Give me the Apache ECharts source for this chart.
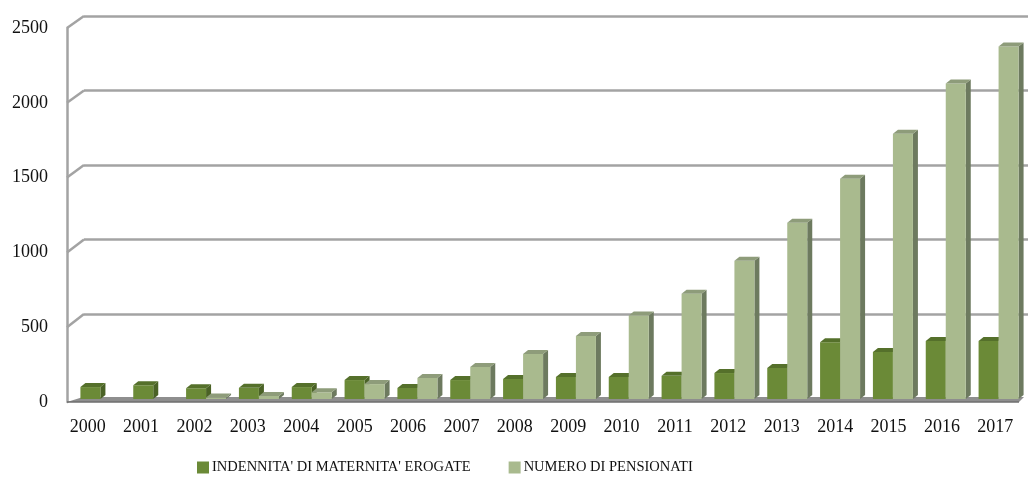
<!DOCTYPE html>
<html>
<head>
<meta charset="utf-8">
<script src="https://cdn.jsdelivr.net/npm/echarts@6/dist/echarts.min.js"></script>
<style>
html,body{margin:0;padding:0;background:#fff;}
#c{width:1028px;height:484px;}
</style>
</head>
<body>
<div id="c"></div>
<script>
const categories = ['2000','2001','2002','2003','2004','2005','2006','2007','2008','2009','2010','2011','2012','2013','2014','2015','2016','2017'];
const indennita = [80, 92, 72, 75, 80, 127, 74, 127, 134, 148, 148, 155, 174, 208, 380, 315, 388, 388];
const pensionati = [0, 0, 10, 20, 45, 100, 141, 215, 302, 423, 560, 705, 926, 1181, 1476, 1778, 2114, 2362];
const seriesNames = ["INDENNITA' DI MATERNITA' EROGATE", 'NUMERO DI PENSIONATI'];
const yTicks = [0, 500, 1000, 1500, 2000, 2500];

const FONT = '"Liberation Serif", "Times New Roman", serif';
const BAR_W = 20, DX = 5, DY = 4;

function makeRender(left, front, side, top) {
  return function (params, api) {
    const cat = api.value(0), v = api.value(1);
    const p = api.coord([cat, v]);
    const p0 = api.coord([cat, 0]);
    if (v <= 0) return { type: 'group', children: [] };
    const x0 = left ? p[0] - BAR_W : p[0];
    const x1 = x0 + BAR_W;
    const yt = p[1], yb = p0[1];
    return {
      type: 'group',
      children: [
        { type: 'polygon', shape: { points: [[x1, yt], [x1 + DX, yt - DY], [x1 + DX, yb - DY], [x1, yb]] }, style: { fill: side } },
        { type: 'rect', shape: { x: x0, y: yt, width: BAR_W, height: yb - yt }, style: { fill: front } },
        { type: 'polygon', shape: { points: [[x0, yt], [x0 + DX, yt - DY], [x1 + DX, yt - DY], [x1, yt]] }, style: { fill: top } }
      ]
    };
  };
}

const chart = echarts.init(document.getElementById('c'), null, { renderer: 'canvas' });
const option = {
  backgroundColor: '#ffffff',
  animation: false,
  textStyle: { fontFamily: FONT },
  legend: {
    left: 192, top: 455,
    itemWidth: 12, itemHeight: 12, itemGap: 38,
    icon: 'rect',
    textStyle: { fontFamily: FONT, fontSize: 14.5, color: '#111', padding: [0, 0, 0, -2] },
    data: seriesNames
  },
  grid: [
    { left: 61, right: 6, top: 28, bottom: 84 },
    { left: 67, right: 6, top: 28, bottom: 82 },
    { left: 84, right: 0, top: 16, bottom: 170 },
    { left: 74, right: 3, top: 26, bottom: 85 }
  ],
  xAxis: [
    { gridIndex: 0, type: 'category', data: categories, axisLine: { show: false }, axisTick: { show: false },
      axisLabel: { fontFamily: FONT, fontSize: 18, color: '#111', margin: 18 } },
    { gridIndex: 1, type: 'category', data: categories, show: false },
    { gridIndex: 2, type: 'value', min: 0, max: 1, show: false },
    { gridIndex: 3, type: 'category', data: categories, show: false }
  ],
  yAxis: [
    { gridIndex: 0, type: 'value', min: 0, max: 2500, interval: 500, show: false },
    { gridIndex: 1, type: 'value', min: 0, max: 2500, interval: 500,
      axisLine: { show: true, lineStyle: { color: '#a3a3a3', width: 2.5 } },
      axisTick: { show: false }, splitLine: { show: false },
      axisLabel: { fontFamily: FONT, fontSize: 18, color: '#111', margin: 19, formatter: v => String(v) } },
    { gridIndex: 2, type: 'value', min: 500, max: 2500, interval: 500,
      axisLine: { show: false }, axisTick: { show: false }, axisLabel: { show: false },
      splitLine: { show: true, lineStyle: { color: '#a3a3a3', width: 2.5 } } },
    { gridIndex: 3, type: 'value', min: 0, max: 2500, interval: 500, show: false }
  ],
  series: [
    { name: seriesNames[0], type: 'custom', xAxisIndex: 3, yAxisIndex: 3, z: 3,
      itemStyle: { color: '#6b8a37' },
      renderItem: makeRender(true, '#6b8a37', '#4a6226', '#55702b'),
      encode: { x: 0, y: 1 },
      data: indennita.map((v, i) => [i, v]) },
    { name: seriesNames[1], type: 'custom', xAxisIndex: 3, yAxisIndex: 3, z: 4,
      itemStyle: { color: '#a9ba8e' },
      renderItem: makeRender(false, '#a9ba8e', '#6d7a5f', '#8e9c7a'),
      encode: { x: 0, y: 1 },
      data: pensionati.map((v, i) => [i, v]) }
  ]
};
chart.setOption(option);

// Decorative 3D frame: left diagonals and floor, positioned via axes
const graphics = [];
const gridFrontLeft = 67, gridBackLeft = 84;
yTicks.forEach(v => {
  if (v === 0) return;
  const yf = chart.convertToPixel({ yAxisIndex: 1 }, v);
  const yb = chart.convertToPixel({ yAxisIndex: 2 }, v);
  graphics.push({ type: 'line', z: 1, shape: { x1: gridFrontLeft, y1: yf, x2: gridBackLeft, y2: yb },
    style: { stroke: '#a3a3a3', lineWidth: 2.5 } });
});
const y0 = chart.convertToPixel({ yAxisIndex: 1 }, 0);
graphics.push({ type: 'polygon', z: 1,
  shape: { points: [[gridFrontLeft, y0], [1019, y0], [1024, y0 - 5], [gridBackLeft - 1, y0 - 5]] },
  style: { fill: '#8e8e8e' } });
graphics.push({ type: 'line', z: 1, shape: { x1: gridFrontLeft, y1: y0, x2: 1019, y2: y0 },
  style: { stroke: '#6e6e6e', lineWidth: 1.5 } });
chart.setOption({ graphic: graphics });
</script>
</body>
</html>
